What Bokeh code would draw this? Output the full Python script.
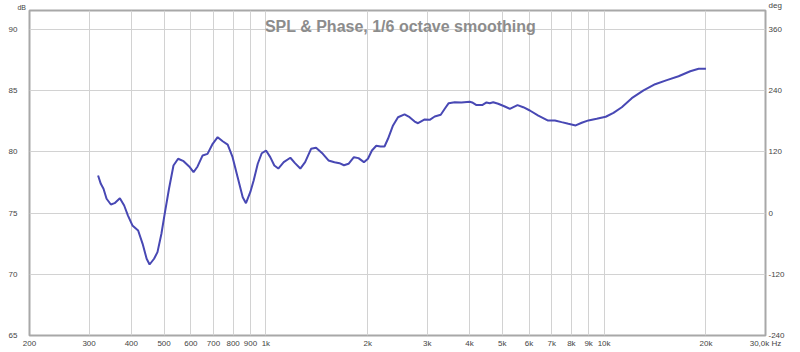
from bokeh.plotting import figure
from bokeh.models import Range1d, LinearAxis, LogAxis, FixedTicker, Label
from bokeh.embed import file_html
from bokeh.resources import INLINE

freq_hz = [319, 325, 331, 338, 348, 357, 370, 381, 391, 403,
           419, 432, 444, 453, 467, 478, 491, 502, 517, 533,
           550, 571, 593, 611, 628, 650, 672, 696, 720, 745,
           771, 797, 825, 854, 873, 899, 920, 946, 972, 1001,
           1030, 1059, 1088, 1129, 1181, 1219, 1264, 1306, 1360, 1407,
           1473, 1531, 1595, 1650, 1701, 1755, 1820, 1878, 1949, 2003,
           2058, 2120, 2182, 2242, 2296, 2376, 2458, 2570, 2660, 2753,
           2817, 2948, 3050, 3156, 3288, 3379, 3471, 3616, 3784, 4006,
           4072, 4194, 4360, 4490, 4592, 4699, 4862, 5086, 5262, 5546,
           5766, 6031, 6388, 6806, 7152, 7486, 7838, 8239, 8585, 8987,
           9506, 10110, 10656, 11278, 12072, 13078, 14152, 15328, 16598, 17972,
           19030, 20000]
spl_db = [78.07, 77.39, 76.99, 76.17, 75.70, 75.81, 76.22, 75.62, 74.80, 73.99,
          73.58, 72.49, 71.27, 70.80, 71.27, 71.81, 73.31, 74.94, 76.99, 78.89,
          79.44, 79.24, 78.81, 78.34, 78.81, 79.71, 79.84, 80.66, 81.20, 80.87,
          80.60, 79.57, 77.93, 76.30, 75.81, 76.71, 77.66, 79.03, 79.89, 80.11,
          79.57, 78.89, 78.64, 79.16, 79.52, 79.08, 78.64, 79.16, 80.25, 80.33,
          79.84, 79.30, 79.16, 79.08, 78.91, 79.03, 79.57, 79.49, 79.16, 79.44,
          80.11, 80.50, 80.44, 80.44, 81.07, 82.16, 82.83, 83.06, 82.83, 82.48,
          82.34, 82.65, 82.62, 82.89, 83.03, 83.52, 83.98, 84.06, 84.04, 84.09,
          84.04, 83.82, 83.82, 84.04, 83.98, 84.06, 83.93, 83.71, 83.52, 83.82,
          83.65, 83.38, 82.97, 82.57, 82.57, 82.43, 82.30, 82.16, 82.38, 82.57,
          82.70, 82.87, 83.19, 83.65, 84.39, 85.02, 85.53, 85.86, 86.18, 86.59,
          86.79, 86.79]

x_ticks = [200, 300, 400, 500, 600, 700, 800, 900, 1000, 2000, 3000, 4000,
           5000, 6000, 7000, 8000, 9000, 10000, 20000, 30000]
x_tick_labels = ["200", "300", "400", "500", "600", "700", "800", "900", "1k",
                 "2k", "3k", "4k", "5k", "6k", "7k", "8k", "9k", "10k", "20k", "30,0k Hz"]
db_ticks = [65, 70, 75, 80, 85, 90]
db_tick_labels = ["65", "70", "75", "80", "85", "90"]
deg_tick_labels = ["-240", "-120", "0", "120", "240", "360"]
title_text = "SPL & Phase, 1/6 octave smoothing"
left_unit = "dB"
right_unit = "deg"

F_MIN, F_MAX = 200, 30000
DB_MIN, DB_MAX = 65, 91.55
FONT = "Liberation Sans"
LBL = "#444444"
NB = "\u00a0"

p = figure(width=800, height=352, x_axis_type="log",
           x_range=Range1d(F_MIN, F_MAX), y_range=Range1d(DB_MIN, DB_MAX),
           output_backend="svg", toolbar_location=None,
           min_border_left=29, min_border_right=35,
           min_border_top=10, min_border_bottom=17)
p.background_fill_color = "white"
p.border_fill_color = "white"
p.outline_line_color = "#a8a8a8"
p.outline_line_width = 2

bax = p.below[0]
lax = p.left[0]

# frequency axis (below)
bax.ticker = FixedTicker(ticks=x_ticks)
bax.major_label_overrides = {t: l for t, l in zip(x_ticks, x_tick_labels)}
bax.major_label_standoff = 3

# left (dB) axis
lax.ticker = FixedTicker(ticks=db_ticks)
lax.major_label_overrides = {t: l for t, l in zip(db_ticks, db_tick_labels)}
lax.major_label_standoff = 12

# unit name "dB" above the top-left corner
tax = LogAxis(ticker=FixedTicker(ticks=[F_MIN]))
tax.major_label_overrides = {F_MIN: left_unit + NB * 8}
tax.major_label_standoff = 0
p.add_layout(tax, "above")

# phase axis: deg labels on the same grid positions as the dB ticks
rax = LinearAxis(ticker=FixedTicker(ticks=db_ticks + [DB_MAX]))
ro = {t: l for t, l in zip(db_ticks, deg_tick_labels)}
ro[DB_MAX] = right_unit + "\n"
rax.major_label_overrides = ro
rax.major_label_standoff = 3
p.add_layout(rax, "right")

for ax in (bax, lax, tax, rax):
    ax.axis_line_color = None
    ax.major_tick_line_color = None
    ax.minor_tick_line_color = None
    ax.major_tick_in = 0
    ax.major_tick_out = 0
    ax.minor_tick_in = 0
    ax.minor_tick_out = 0
    ax.major_label_text_font = FONT
    ax.major_label_text_font_size = "8px"
    ax.major_label_text_color = LBL
tax.major_label_text_font_size = "7px"

p.xgrid.grid_line_color = "#d2d2d2"
p.ygrid.grid_line_color = "#d2d2d2"
p.xgrid.ticker = FixedTicker(ticks=x_ticks)
p.ygrid.ticker = FixedTicker(ticks=db_ticks)
p.xgrid.minor_grid_line_color = None

p.line(freq_hz, spl_db, line_color="#4848b4", line_width=2)

p.add_layout(Label(x=371, y=309, x_units="screen", y_units="screen",
                   text=title_text, text_align="center", text_baseline="alphabetic",
                   text_font=FONT, text_font_style="bold", text_font_size="16px",
                   text_color="#8c8c8c"))

open("out.html", "w").write(file_html(p, INLINE))
